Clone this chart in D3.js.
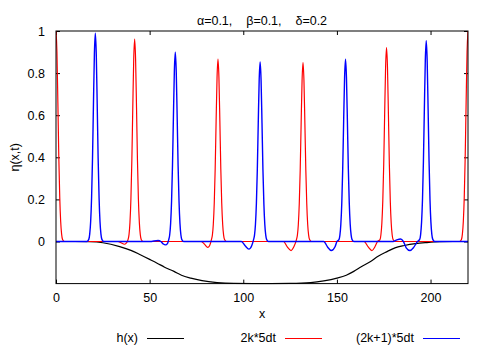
<!DOCTYPE html>
<html>
<head>
<meta charset="utf-8">
<script src="https://cdn.jsdelivr.net/npm/d3@7"></script>
<style>
	body { margin: 0; background: #fff; }
	text { font-family: "Liberation Sans", Arial, Helvetica, sans-serif; fill: #000; white-space: pre; }
</style>
</head>
<body>
<svg id="chart" width="500" height="350"></svg>
<script>
var titleText = "\u03b1=0.1,    \u03b2=0.1,    \u03b4=0.2";
var xTicks = [0, 50, 100, 150, 200];
var yTicks = [0, 0.2, 0.4, 0.6, 0.8, 1];
var legendLabels = ["h(x)", "2k*5dt", "(2k+1)*5dt"];
var seriesColors = ["#000000", "#ff0000", "#0000ff"];
var seriesWidths = [1.2, 1.2, 1.4];

//  bottom profile h(x)
var hCurve = [
	[0, 0], [10, 0], [18, -0.001], [25, -0.006], [34, -0.024], [40, -0.042], [45, -0.063],
	[50, -0.085], [54, -0.103], [58, -0.122], [63, -0.142], [67, -0.16], [72, -0.174],
	[78, -0.186], [86, -0.195], [95, -0.199], [110, -0.2], [125, -0.199], [136, -0.195],
	[143, -0.187], [150, -0.174], [155, -0.16], [159, -0.142], [163, -0.12], [168, -0.095],
	[172, -0.07], [177, -0.047], [181, -0.03], [186, -0.019], [192, -0.01], [198, -0.005],
	[205, -0.001], [212, 0], [220, 0]
];

//  eta at even steps, 2k*5dt
var evenSteps = [
	[0, 1], [0.5, 0.9], [1, 0.66], [1.5, 0.4], [2, 0.21], [2.5, 0.095], [3, 0.035], [3.5, 0.01], [4.5, 0],
	[33, 0], [35, -0.007], [36.5, -0.013], [37.5, -0.008],
	[38.5, 0.01], [39, 0.034], [39.5, 0.091], [40, 0.202], [40.5, 0.385], [41, 0.635], [41.5, 0.866],
	[42, 0.962], [42.5, 0.866], [43, 0.635], [43.5, 0.385], [44, 0.202], [44.5, 0.091], [45, 0.034],
	[45.5, 0.01], [46.5, 0],
	[77.5, 0], [79.5, -0.015], [81, -0.028], [82, -0.02],
	[83, 0.009], [83.5, 0.03], [84, 0.082], [84.5, 0.182], [85, 0.346], [85.5, 0.572], [86, 0.779],
	[86.5, 0.866], [87, 0.779], [87.5, 0.572], [88, 0.346], [88.5, 0.182], [89, 0.082], [89.5, 0.03],
	[90, 0.009], [91, 0],
	[121.5, 0], [123.5, -0.026], [125.5, -0.043], [127, -0.025],
	[128.4, 0.009], [128.9, 0.03], [129.4, 0.081], [129.9, 0.179], [130.4, 0.34], [130.9, 0.561],
	[131.4, 0.765], [131.9, 0.85], [132.4, 0.765], [132.9, 0.561], [133.4, 0.34], [133.9, 0.179],
	[134.4, 0.081], [134.9, 0.03], [135.4, 0.009], [136.4, 0],
	[164.5, 0], [166.7, -0.026], [168.7, -0.043], [170.3, -0.025], [171.7, 0],
	[173, 0.009], [173.5, 0.032], [174, 0.087], [174.5, 0.193], [175, 0.368], [175.5, 0.608],
	[176, 0.829], [176.5, 0.921], [177, 0.829], [177.5, 0.608], [178, 0.368], [178.5, 0.193],
	[179, 0.087], [179.5, 0.032], [180, 0.009], [181, 0],
	[215.5, 0],
	[216.5, 0.01], [217, 0.035], [217.5, 0.095], [218, 0.21], [218.5, 0.4], [219, 0.66], [219.5, 0.9], [220, 1]
];

//  eta at odd steps, (2k+1)*5dt
var oddSteps = [
	[0, 0], [16.5, 0],
	[17.5, 0.01], [18, 0.035], [18.5, 0.094], [19, 0.208], [19.5, 0.396], [20, 0.653], [20.5, 0.891],
	[21, 0.99], [21.5, 0.891], [22, 0.653], [22.5, 0.396], [23, 0.208], [23.5, 0.094], [24, 0.035],
	[24.5, 0.01], [25.5, 0],
	[50, 0], [54.5, 0.005], [56, 0], [57.3, -0.012], [58.5, -0.016], [59.5, -0.01],
	[60.2, 0.009], [60.7, 0.031], [61.2, 0.085], [61.7, 0.189], [62.2, 0.36], [62.7, 0.593], [63.2, 0.809],
	[63.7, 0.899], [64.2, 0.809], [64.7, 0.593], [65.2, 0.36], [65.7, 0.189], [66.2, 0.085], [66.7, 0.031],
	[67.2, 0.009], [68.2, 0],
	[99, 0], [101, -0.02], [103, -0.036], [104.5, -0.02],
	[105.5, 0.009], [106, 0.03], [106.5, 0.081], [107, 0.179], [107.5, 0.341], [108, 0.563], [108.5, 0.768],
	[109, 0.853], [109.5, 0.768], [110, 0.563], [110.5, 0.341], [111, 0.179], [111.5, 0.081], [112, 0.03],
	[112.5, 0.009], [113.5, 0],
	[143, 0], [145, -0.026], [147, -0.043], [149, -0.025], [150, 0],
	[151.1, 0.009], [151.6, 0.03], [152.1, 0.082], [152.6, 0.182], [153.1, 0.346], [153.6, 0.572],
	[154.1, 0.779], [154.6, 0.866], [155.1, 0.779], [155.6, 0.572], [156.1, 0.346], [156.6, 0.182],
	[157.1, 0.082], [157.6, 0.03], [158.1, 0.009], [159.1, 0],
	[180, 0], [182, 0.008], [184, 0.012], [185.5, 0], [187, -0.03], [189, -0.043], [191, -0.028], [193, 0],
	[194.2, 0.01], [194.7, 0.033], [195.2, 0.091], [195.7, 0.2], [196.2, 0.382], [196.7, 0.63],
	[197.2, 0.859], [197.7, 0.954], [198.2, 0.859], [198.7, 0.63], [199.2, 0.382], [199.7, 0.2],
	[200.2, 0.091], [200.7, 0.033], [201.2, 0.01], [202.2, 0],
	[220, 0]
];

//  plot height picked so that eta=0 falls on a pixel centre
var margin = {top: 31, right: 32, bottom: 66.4, left: 56},
	width = 500 - margin.left - margin.right,
	height = 350 - margin.top - margin.bottom;

var svg = d3.select("#chart");

var x = d3.scaleLinear().domain([0, 220]).range([0, width]);
var y = d3.scaleLinear().domain([-0.2, 1]).range([height, 0]);

var g = svg.append("g")
	.attr("transform", "translate(" + margin.left + "," + margin.top + ")");

g.append("clipPath").attr("id", "plot-clip")
	.append("rect")
	.attr("x", 0).attr("y", -1)
	.attr("width", width).attr("height", height + 2);

//  inward ticks on all four sides, gnuplot style
var tickLen = 4;
g.append("g")
	.attr("transform", "translate(0," + height + ")")
	.call(d3.axisBottom(x).tickValues(xTicks).tickSizeInner(-tickLen).tickSizeOuter(0).tickPadding(10))
	.call(function(a) { a.select(".domain").remove(); });
g.append("g")
	.call(d3.axisTop(x).tickValues(xTicks).tickSizeInner(-tickLen).tickSizeOuter(0).tickFormat(""))
	.call(function(a) { a.select(".domain").remove(); });
g.append("g")
	.call(d3.axisLeft(y).tickValues(yTicks).tickSizeInner(-tickLen).tickSizeOuter(0).tickPadding(11)
		.tickFormat(d3.format("")))
	.call(function(a) { a.select(".domain").remove(); });
g.append("g")
	.attr("transform", "translate(" + width + ",0)")
	.call(d3.axisRight(y).tickValues(yTicks).tickSizeInner(-tickLen).tickSizeOuter(0).tickFormat(""))
	.call(function(a) { a.select(".domain").remove(); });

g.selectAll(".tick text")
	.style("font-size", "12.5px")
	.style("font-family", "'Liberation Sans', Arial, Helvetica, sans-serif");
g.selectAll(".tick line").attr("stroke", "#000");

var line = d3.line()
	.x(function(d) { return x(d[0]); })
	.y(function(d) { return y(d[1]); })
	.curve(d3.curveMonotoneX);

var series = [hCurve, evenSteps, oddSteps];
g.append("g")
	.attr("clip-path", "url(#plot-clip)")
	.selectAll("path")
	.data(series)
	.enter().append("path")
	.attr("fill", "none")
	.attr("stroke", function(d, i) { return seriesColors[i]; })
	.attr("stroke-width", function(d, i) { return seriesWidths[i]; })
	.attr("d", line);

//  frame
g.append("rect")
	.attr("x", 0).attr("y", 0)
	.attr("width", width).attr("height", height)
	.attr("fill", "none")
	.attr("stroke", "#000")
	.attr("stroke-width", 1);

svg.append("text")
	.attr("x", margin.left + width / 2)
	.attr("y", 25)
	.style("text-anchor", "middle")
	.style("font-size", "12.5px")
	.text(titleText);

svg.append("text")
	.attr("x", margin.left + width / 2)
	.attr("y", 318)
	.style("text-anchor", "middle")
	.style("font-size", "12.5px")
	.text("x");

svg.append("text")
	.attr("transform", "translate(19," + (margin.top + height / 2) + ") rotate(-90)")
	.style("text-anchor", "middle")
	.style("font-size", "12.5px")
	.text("\u03b7(x,t)");

//  legend under the plot
var legend = svg.selectAll(".legend")
	.data(legendLabels)
	.enter().append("g")
	.attr("class", "legend")
	.attr("transform", function(d, i) {
		return "translate(" + (138 + i * 138) + ",338)";
	});
legend.append("text")
	.attr("dy", ".35em")
	.style("text-anchor", "end")
	.style("font-size", "12.5px")
	.text(function(d) { return d; });
legend.append("line")
	.attr("x1", 9).attr("x2", 46)
	.attr("y1", 0.5).attr("y2", 0.5)
	.attr("stroke", function(d, i) { return seriesColors[i]; })
	.attr("stroke-width", 1.2);
</script>
</body>
</html>
